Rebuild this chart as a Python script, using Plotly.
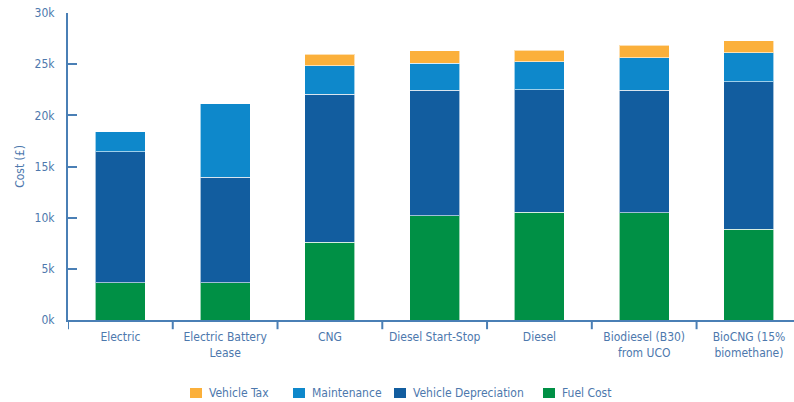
import plotly.graph_objects as go

# Annual cost breakdown per vehicle/fuel option (£ thousands)
categories = [
    "Electric",
    "Electric Battery<br>Lease",
    "CNG",
    "Diesel Start-Stop",
    "Diesel",
    "Biodiesel (B30)<br>from UCO",
    "BioCNG (15%<br>biomethane)",
]
fuel_cost = [3.65, 3.65, 7.6, 10.2, 10.55, 10.5, 8.85]
vehicle_depreciation = [12.8, 10.3, 14.45, 12.25, 11.95, 11.95, 14.45]
maintenance = [1.95, 7.2, 2.8, 2.65, 2.75, 3.2, 2.8]
vehicle_tax = [0, 0, 1.1, 1.2, 1.1, 1.2, 1.2]

y_ticks = [0, 5, 10, 15, 20, 25, 30]
y_tick_labels = ["0k", "5k", "10k", "15k", "20k", "25k", "30k"]

FONT = "DejaVu Sans Condensed, Roboto, sans-serif"
TEXT = "#4d78ad"
AXIS = "#4a7fb5"

W, H = 794, 402
ML, MR, MT, MB = 68, 0, 13, 82
PW, PH = W - ML - MR, H - MT - MB

series = [
    ("Fuel Cost", fuel_cost, "#009045"),
    ("Vehicle Depreciation", vehicle_depreciation, "#125d9f"),
    ("Maintenance", maintenance, "#0e88cb"),
    ("Vehicle Tax", vehicle_tax, "#fbb03b"),
]

x_idx = list(range(len(categories)))

fig = go.Figure()
for name, vals, color in series:
    fig.add_trace(go.Bar(
        x=x_idx, y=[v * 1000 for v in vals], name=name,
        marker=dict(color=color, line=dict(color="rgba(255,255,255,0.6)", width=1)),
        width=0.477, showlegend=False,
    ))

fig.update_layout(
    width=W, height=H,
    margin=dict(l=ML, r=MR, t=MT, b=MB, autoexpand=False),
    barmode="stack",
    plot_bgcolor="white", paper_bgcolor="white",
    font=dict(family=FONT, size=12, color=TEXT),
    xaxis=dict(
        range=[-0.5, 6.43], automargin=False,
        tickmode="array", tickvals=x_idx, ticktext=categories,
        showgrid=False, zeroline=False,
        showline=True, linecolor=AXIS, linewidth=2,
        ticks="", ticklabelstandoff=5,
        tickfont=dict(family=FONT, size=12, color=TEXT),
    ),
    yaxis=dict(
        range=[0, 30000], automargin=False,
        tickmode="array", tickvals=[t * 1000 for t in y_ticks], ticktext=y_tick_labels,
        showgrid=False, zeroline=False,
        showline=True, linecolor=AXIS, linewidth=2,
        ticks="inside", ticklen=9, tickwidth=2, tickcolor=AXIS,
        ticklabelstandoff=9,
        tickfont=dict(family=FONT, size=12, color=TEXT),
        title=dict(text="Cost (£)", font=dict(family=FONT, size=12, color=TEXT), standoff=7),
    ),
)

# category boundary ticks on the x axis
for b in [i - 0.5 for i in range(len(categories) + 1)]:
    fig.add_shape(type="line", xref="x", yref="paper", x0=b, x1=b, y0=0, y1=-0.03,
                  line=dict(color=AXIS, width=2))

# compact legend row under the axis: colour swatch followed by its label
def px_x(p):
    return (p - ML) / PW

def px_y(p):
    return (H - MB - p) / PH

legend_items = [("Vehicle Tax", "#fbb03b", 190),
                ("Maintenance", "#0e88cb", 293),
                ("Vehicle Depreciation", "#125d9f", 394),
                ("Fuel Cost", "#009045", 543)]
legend_y = 393
for label, color, left in legend_items:
    fig.add_shape(type="rect", xref="paper", yref="paper",
                  x0=px_x(left), x1=px_x(left + 12),
                  y0=px_y(legend_y + 5), y1=px_y(legend_y - 5),
                  fillcolor=color, line=dict(width=0))
    fig.add_annotation(xref="paper", yref="paper", x=px_x(left + 17), y=px_y(legend_y),
                       text=label, showarrow=False, xanchor="left", yanchor="middle",
                       font=dict(family=FONT, size=12, color=TEXT))

fig.write_html("out.html")
